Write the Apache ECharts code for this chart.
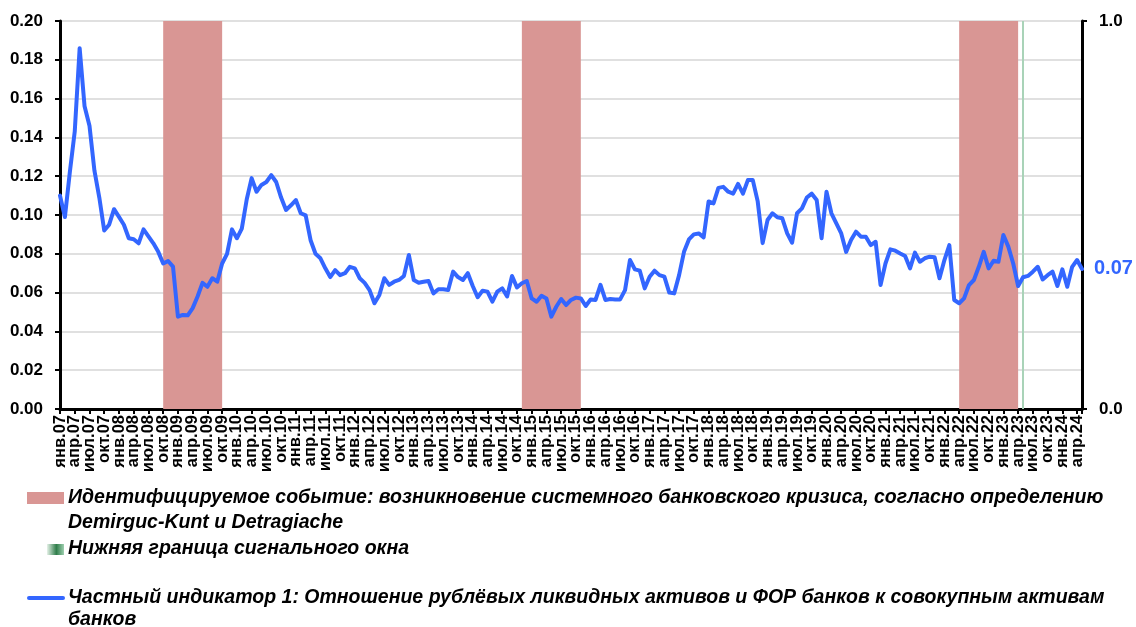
<!DOCTYPE html>
<html>
<head>
<meta charset="utf-8">
<script src="https://cdn.jsdelivr.net/npm/echarts@6/dist/echarts.min.js"></script>
<style>
  html, body { margin: 0; padding: 0; background: #fff; }
  #chart { width: 1136px; height: 627px; }
</style>
</head>
<body>
<div id="chart"></div>
<script>
// подписи месяцев: янв.07 ... май.24
const monthNames = ['янв', 'фев', 'мар', 'апр', 'май', 'июн', 'июл', 'авг', 'сен', 'окт', 'ноя', 'дек']
const firstYear = 2007
const monthCount = 209
const months = []
for (let i = 0; i < monthCount; i++) {
  const y = String(firstYear + Math.floor(i / 12)).slice(2)
  months.push(monthNames[i % 12] + '.' + y)
}

// Частный индикатор 1 (по месяцам)
const indicatorValues = [
  0.110, 0.099, 0.122, 0.143, 0.186, 0.156, 0.146, 0.123, 0.109, 0.092,
  0.095, 0.103, 0.099, 0.095, 0.088, 0.0875, 0.0854, 0.0926, 0.089, 0.0854,
  0.081, 0.075, 0.0763, 0.0734, 0.0476, 0.0485, 0.0483, 0.052, 0.058, 0.065,
  0.063, 0.0674, 0.0656, 0.075, 0.080, 0.0926, 0.088, 0.093, 0.108, 0.119,
  0.112, 0.1155, 0.117, 0.1206, 0.117, 0.109, 0.1026, 0.105, 0.1077, 0.1009,
  0.0998, 0.087, 0.080, 0.0777, 0.0725, 0.068, 0.0716, 0.069, 0.070, 0.0733,
  0.0725, 0.0674, 0.065, 0.0613, 0.0545, 0.0588, 0.0674, 0.064, 0.0656, 0.0665,
  0.0686, 0.0794, 0.0665, 0.0651, 0.0656, 0.066, 0.0596, 0.0617, 0.0617, 0.0613,
  0.0708, 0.068, 0.0665, 0.070, 0.0634, 0.0576, 0.061, 0.0605, 0.0553, 0.0605,
  0.0622, 0.058, 0.0686, 0.0627, 0.0648, 0.066, 0.057, 0.0553, 0.0584, 0.057,
  0.0476, 0.0527, 0.0567, 0.0536, 0.0562, 0.0574, 0.057, 0.0531, 0.0565, 0.0562,
  0.064, 0.0562, 0.0567, 0.0565, 0.0565, 0.0613, 0.0768, 0.072, 0.0713, 0.0622,
  0.0682, 0.0713, 0.069, 0.0682, 0.060, 0.0596, 0.069, 0.081, 0.0874, 0.090,
  0.0905, 0.0885, 0.107, 0.106, 0.114, 0.1145, 0.112, 0.111, 0.116, 0.111,
  0.118, 0.118, 0.107, 0.0855, 0.0974, 0.1009, 0.0988, 0.0983, 0.0905, 0.0857,
  0.1009, 0.1034, 0.109, 0.111, 0.1077, 0.088, 0.112, 0.1009, 0.0957, 0.0905,
  0.081, 0.0871, 0.0914, 0.0888, 0.0888, 0.0845, 0.0862, 0.0639, 0.075, 0.0823,
  0.0816, 0.0802, 0.0789, 0.0725, 0.0806, 0.0759, 0.0777, 0.0785, 0.0782, 0.0674,
  0.0768, 0.0845, 0.0562, 0.0545, 0.057, 0.0639, 0.0665, 0.0733, 0.081, 0.0725,
  0.0764, 0.0759, 0.0897, 0.0837, 0.075, 0.0634, 0.0679, 0.0686, 0.0708, 0.0733,
  0.0668, 0.069, 0.0708, 0.0634, 0.072, 0.063, 0.0733, 0.0768, 0.0722
]

// периоды системного банковского кризиса
const crisisPeriods = [
  ['окт.08', 'окт.09'],
  ['ноя.14', 'ноя.15'],
  ['апр.22', 'апр.23']
]
// нижняя граница сигнального окна
const signalBound = 'май.23'

const leftTicks = { min: 0, max: 0.2, step: 0.02 }
const rightTicks = { min: 0, max: 1, step: 1 }

const crisisName = 'Идентифицируемое событие: возникновение системного банковского кризиса, согласно определению'
const crisisName2 = 'Demirguc-Kunt и Detragiache'
const signalName = 'Нижняя граница сигнального окна'
const lineName = 'Частный индикатор 1: Отношение рублёвых ликвидных активов и ФОР банков к совокупным активам'
const lineName2 = 'банков'

const FONT = '"Liberation Sans", Arial, sans-serif'
const legendText = (x, y, text) => ({
  type: 'text',
  left: x,
  top: y,
  style: {
    text: text,
    font: 'italic bold 19.5px ' + FONT,
    fill: '#000'
  }
})

const chart = echarts.init(document.getElementById('chart'), null, { renderer: 'canvas' })

const option = {
  animation: false,
  backgroundColor: '#fff',
  textStyle: { fontFamily: FONT },
  grid: { left: 60, right: 54, top: 21, bottom: 218, containLabel: false },
  xAxis: {
    type: 'category',
    data: months,
    boundaryGap: false,
    axisLine: { lineStyle: { color: '#000', width: 3 } },
    axisTick: { interval: 2, length: 5, lineStyle: { color: '#000', width: 2 } },
    axisLabel: {
      interval: 0,
      // подпись каждого третьего месяца
      formatter: (v, i) => (i % 3 === 0 ? v : ''),
      rotate: 90,
      margin: 6,
      showMinLabel: true,
      showMaxLabel: false,
      color: '#000',
      fontWeight: 'bold',
      fontSize: 16.5,
      lineHeight: 13,
      fontFamily: FONT
    },
    splitLine: { show: false }
  },
  yAxis: [
    {
      type: 'value',
      min: leftTicks.min,
      max: leftTicks.max,
      interval: leftTicks.step,
      axisLine: { show: true, lineStyle: { color: '#000', width: 3 } },
      axisTick: { show: true, length: 5, lineStyle: { color: '#000', width: 2 } },
      axisLabel: {
        margin: 17,
        color: '#000',
        fontWeight: 'bold',
        fontSize: 17,
        fontFamily: FONT,
        formatter: v => v.toFixed(2)
      },
      splitLine: { lineStyle: { color: '#d6d6d6', width: 1.5 } }
    },
    {
      type: 'value',
      position: 'right',
      min: rightTicks.min,
      max: rightTicks.max,
      interval: rightTicks.step,
      axisLine: { show: true, lineStyle: { color: '#000', width: 3 } },
      axisTick: { show: true, length: 5, lineStyle: { color: '#000', width: 2 } },
      axisLabel: {
        margin: 17,
        color: '#000',
        fontWeight: 'bold',
        fontSize: 17,
        fontFamily: FONT,
        formatter: v => v.toFixed(1)
      },
      splitLine: { show: false }
    }
  ],
  series: [
    {
      name: crisisName,
      type: 'line',
      yAxisIndex: 1,
      data: [],
      silent: true,
      markArea: {
        silent: true,
        itemStyle: { color: '#d99694', opacity: 1 },
        data: crisisPeriods.map(p => [{ xAxis: p[0] }, { xAxis: p[1] }])
      }
    },
    {
      name: signalName,
      type: 'line',
      yAxisIndex: 1,
      data: [],
      silent: true,
      markLine: {
        silent: true,
        symbol: 'none',
        label: { show: false },
        lineStyle: { color: '#a9d3b8', width: 2, type: 'solid' },
        data: [{ xAxis: signalBound }]
      }
    },
    {
      name: lineName,
      type: 'line',
      data: indicatorValues,
      showSymbol: false,
      z: 5,
      lineStyle: { color: '#3366ff', width: 4, join: 'round', cap: 'round' },
      itemStyle: { color: '#3366ff' },
      endLabel: {
        show: true,
        distance: 12,
        color: '#3366ff',
        fontWeight: 'bold',
        fontSize: 20,
        fontFamily: FONT,
        formatter: p => p.value.toFixed(2)
      }
    }
  ],
  graphic: [
    { type: 'rect', left: 27, top: 492, shape: { width: 37, height: 12 }, style: { fill: '#d99694' } },
    legendText(68, 488, crisisName),
    legendText(68, 513, crisisName2),
    {
      type: 'rect', left: 47, top: 544, shape: { width: 17, height: 11 },
      style: {
        fill: new echarts.graphic.LinearGradient(0, 0, 1, 0, [
          { offset: 0, color: '#e6f2e9' },
          { offset: 0.55, color: '#2f7d4a' },
          { offset: 1, color: '#9fd0b0' }
        ])
      }
    },
    legendText(68, 539, signalName),
    { type: 'line', shape: { x1: 29, y1: 598, x2: 63, y2: 598 }, style: { stroke: '#3366ff', lineWidth: 4, lineCap: 'round' } },
    legendText(68, 588, lineName),
    legendText(68, 610, lineName2)
  ]
}

chart.setOption(option)
</script>
</body>
</html>
